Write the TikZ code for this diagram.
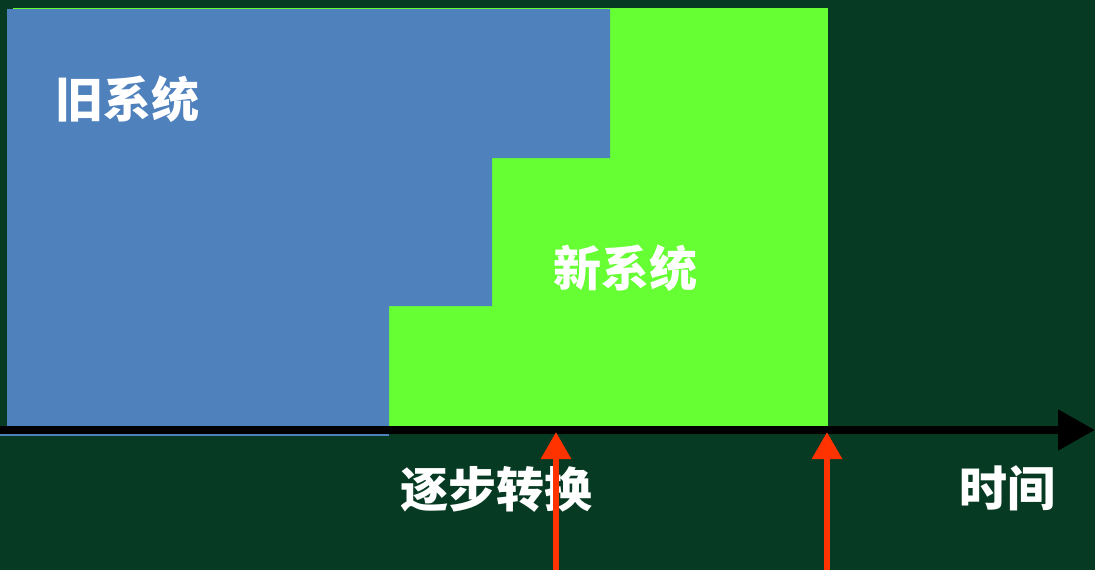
\documentclass[tikz,border=0pt]{standalone}
\usepackage{fontspec}
\newfontfamily\cjk{Noto Sans CJK SC}
\usetikzlibrary{arrows.meta}
\definecolor{bgdark}{HTML}{063A22}
\definecolor{oldblue}{HTML}{4F81BD}
\definecolor{newgreen}{HTML}{66FF33}
\definecolor{markred}{HTML}{FF3300}
\tikzset{
  lbl/.style={text=white, inner sep=0pt, font=\cjk\bfseries\fontsize{48}{52}\selectfont},
  axisline/.style={draw=black, line width=8pt, -{Triangle[length=37pt,width=39pt]}},
  marker/.style={draw=markred, line width=6pt, -{Triangle[length=27pt,width=29pt]}}
}
\begin{document}
\begin{tikzpicture}[x=1pt,y=-1pt]
\fill[bgdark] (0,0) rectangle (1095,570);
\useasboundingbox (0,0) rectangle (1095,570);
% new system region
\fill[newgreen] (13,8) rectangle (828,426);
% old system region (staircase)
\fill[oldblue] (7,9) -- (610,9) -- (610,158) -- (492,158) -- (492,306) -- (389,306) -- (389,426) -- (7,426) -- cycle;
\draw[oldblue, line width=2pt] (0,435) -- (389,435);
% labels
\node[lbl] (old) at (127,99) {旧系统};
\node[lbl] (new) at (625,268) {新系统};
\node[lbl] (grad) at (496,489) {逐步转换};
\node[lbl] (time) at (1007,488) {时间};
% time axis
\coordinate (axs) at (0,430);
\coordinate (axe) at (1095,430);
\draw[axisline] (axs) -- (axe);
% markers
\coordinate (m1b) at (556,570);
\coordinate (m1t) at (556,432);
\coordinate (m2b) at (827,570);
\coordinate (m2t) at (827,432);
\draw[marker] (m1b) -- (m1t);
\draw[marker] (m2b) -- (m2t);
\end{tikzpicture}
\end{document}
